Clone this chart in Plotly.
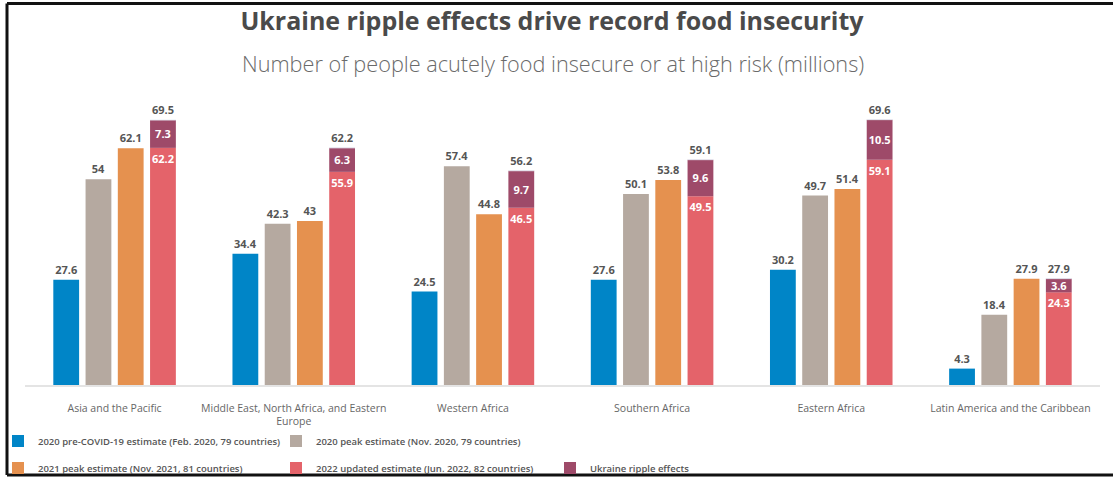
import plotly.graph_objects as go

# ---------------- data ----------------
regions = [
    "Asia and the Pacific",
    "Middle East, North Africa, and Eastern<br>Europe",
    "Western Africa",
    "Southern Africa",
    "Eastern Africa",
    "Latin America and the Caribbean",
]
pre_covid_2020 = [27.6, 34.4, 24.5, 27.6, 30.2, 4.3]
peak_2020 = [54, 42.3, 57.4, 50.1, 49.7, 18.4]
peak_2021 = [62.1, 43, 44.8, 53.8, 51.4, 27.9]
updated_2022 = [62.2, 55.9, 46.5, 49.5, 59.1, 24.3]
ukraine_ripple = [7.3, 6.3, 9.7, 9.6, 10.5, 3.6]
totals_2022 = [69.5, 62.2, 56.2, 59.1, 69.6, 27.9]

series_names = [
    "2020 pre-COVID-19 estimate (Feb. 2020, 79 countries)",
    "2020 peak estimate (Nov. 2020, 79 countries)",
    "2021 peak estimate (Nov. 2021, 81 countries)",
    "2022 updated estimate (Jun. 2022, 82 countries)",
    "Ukraine ripple effects",
]
colors = ["#0085C7", "#B5A9A0", "#E5914F", "#E4636A", "#9E4A69"]

# ---------------- layout geometry ----------------
W, H = 1113, 477
ML, MR, MT, MB = 25, 13, 80, 92
PW, PH = W - ML - MR, H - MT - MB


def px_x(px):
    return (px - ML) / PW


def px_y(py):
    return (H - MB - py) / PH


label_font = dict(family="Open Sans", size=11, color="#555555", weight="bold")
inside_font = dict(family="Open Sans", size=11, color="#FFFFFF", weight="bold")

fig = go.Figure()

plain = [(pre_covid_2020, "a", "legend"), (peak_2020, "b", "legend"), (peak_2021, "c", "legend2")]
for i, (vals, og, lg) in enumerate(plain):
    fig.add_trace(go.Bar(
        x=regions, y=vals, name=series_names[i], offsetgroup=og,
        marker=dict(color=colors[i], line=dict(width=0)),
        text=vals, texttemplate="%{y}", textposition="outside",
        textfont=label_font, constraintext="none", cliponaxis=False,
        legend=lg,
    ))

fig.add_trace(go.Bar(
    x=regions, y=updated_2022, name=series_names[3], offsetgroup="d",
    marker=dict(color=colors[3], line=dict(width=0)),
    texttemplate="%{y}", textposition="inside", insidetextanchor="end",
    textfont=inside_font, constraintext="none", textangle=0,
    legend="legend2",
))
fig.add_trace(go.Bar(
    x=regions, y=ukraine_ripple, base=updated_2022, name=series_names[4], offsetgroup="d",
    marker=dict(color=colors[4], line=dict(width=0)),
    texttemplate="%{y}", textposition="inside", insidetextanchor="middle",
    textfont=inside_font, constraintext="none", textangle=0,
    legend="legend3",
))
fig.add_trace(go.Bar(
    x=regions, y=[0] * len(regions), base=totals_2022, offsetgroup="d",
    marker=dict(color="rgba(0,0,0,0)"), showlegend=False,
    text=[str(t) for t in totals_2022], texttemplate="%{text}", textposition="outside",
    textfont=label_font, constraintext="none", cliponaxis=False,
))

legend_common = dict(
    orientation="h", xanchor="left", yanchor="middle",
    font=dict(family="Open Sans", size=9.5, color="#555555", weight=600),
    bgcolor="rgba(0,0,0,0)", entrywidthmode="pixels", itemwidth=30,
    tracegroupgap=0, itemclick=False,
)

fig.update_layout(
    width=W, height=H,
    margin=dict(l=ML, r=MR, t=MT, b=MB, pad=0, autoexpand=False),
    paper_bgcolor="white", plot_bgcolor="white",
    barmode="group", bargap=0.28, bargroupgap=0.2,
    title=dict(
        text="<b>Ukraine ripple effects drive record food insecurity</b>",
        x=552 / W, xanchor="center",
        y=1 - 21 / H, yanchor="middle",
        font=dict(family="Open Sans", size=25, color="#4A4A4A"),
    ),
    xaxis=dict(
        showline=True, linecolor="#E4E4E4", linewidth=2, ticks="",
        tickfont=dict(family="Open Sans", size=10.5, color="#666666"),
        ticklabelstandoff=12,
        showgrid=False, zeroline=False,
    ),
    yaxis=dict(range=[0, 80], visible=False, showgrid=False, zeroline=False),
    legend=dict(**legend_common, x=px_x(-2), y=px_y(441), entrywidth=233),
    legend2=dict(**legend_common, x=px_x(-2), y=px_y(468), entrywidth=233),
    legend3=dict(**legend_common, x=px_x(550), y=px_y(468), entrywidth=150),
    annotations=[dict(
        text="Number of people acutely food insecure or at high risk (millions)",
        xref="paper", yref="paper", x=px_x(553), y=px_y(63),
        xanchor="center", yanchor="middle", showarrow=False,
        font=dict(family="Open Sans", size=21.7, color="#6A6A6A", weight=300),
    )],
    shapes=[
        dict(type="line", xref="paper", yref="paper", x0=px_x(7), x1=px_x(W), y0=px_y(3.5), y1=px_y(3.5),
             line=dict(color="#111111", width=3)),
        dict(type="line", xref="paper", yref="paper", x0=px_x(7), x1=px_x(7), y0=px_y(3.5), y1=px_y(475),
             line=dict(color="#111111", width=3)),
        dict(type="line", xref="paper", yref="paper", x0=px_x(7), x1=px_x(W), y0=px_y(475), y1=px_y(475),
             line=dict(color="#111111", width=3)),
    ],
)

fig.write_html("out.html")
